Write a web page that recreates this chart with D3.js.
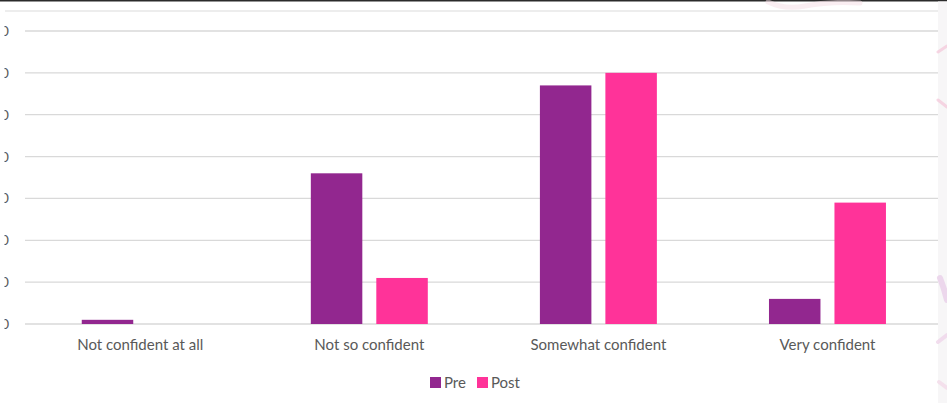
<!DOCTYPE html>
<html>
<head>
<meta charset="utf-8">
<script src="https://cdn.jsdelivr.net/npm/d3@7"></script>
<style>
  html, body { margin: 0; padding: 0; background: #fff; }
  svg { display: block; }
  text { font-family: Lato, "Open Sans", sans-serif; }
</style>
</head>
<body>
<svg id="chart" width="947" height="403"></svg>
<script>
// Confidence survey, percentage of respondents before and after
const categories = ["Not confident at all", "Not so confident", "Somewhat confident", "Very confident"];
const seriesNames = ["Pre", "Post"];
const preValues = [1, 36, 57, 6];
const postValues = [0, 11, 60, 29];
const yTicks = [0, 10, 20, 30, 40, 50, 60, 70];
const colors = ["#92278f", "#ff3399"];

const W = 947, H = 403;
const svg = d3.select("#chart");

const rows = categories.map((c, i) => ({ category: c, values: [preValues[i], postValues[i]] }));

const x0 = d3.scaleBand().domain(categories).range([25.7, 942]).paddingInner(0).paddingOuter(0);
const x1 = d3.scaleBand().domain(seriesNames).range([0, x0.bandwidth()])
  .paddingInner(0.2137).paddingOuter(0.856);
const y = d3.scaleLinear().domain([0, 70]).range([324, 31]);
const color = d3.scaleOrdinal().domain(seriesNames).range(colors);

// thin frame line along the top of the page
svg.append("line").attr("x1", 0).attr("x2", W).attr("y1", 0.75).attr("y2", 0.75)
  .attr("stroke", "#2b2b2b").attr("stroke-width", 1.5);
svg.append("line").attr("x1", 5).attr("x2", 938).attr("y1", 11).attr("y2", 11)
  .attr("stroke", "#dcdcdc").attr("stroke-width", 1.2);

// horizontal gridlines
svg.append("g").selectAll("line").data(yTicks).join("line")
  .attr("x1", 25).attr("x2", 942)
  .attr("y1", d => y(d)).attr("y2", d => y(d))
  .attr("stroke", "#d9d9d9").attr("stroke-width", 1.3);

// value axis labels, partly cut at the left edge
const yAxis = d3.axisLeft(y).tickValues(yTicks).tickSize(0).tickPadding(0);
const gy = svg.append("g").attr("transform", "translate(9,0)");
gy.append("clipPath").attr("id", "axisClip")
  .append("rect").attr("x", -4.5).attr("y", 0).attr("width", 40).attr("height", H);
gy.attr("clip-path", "url(#axisClip)");
gy.call(yAxis);
gy.select(".domain").remove();
gy.selectAll("text").attr("font-size", 14).attr("fill", "#595959")
  .style("font-family", "Lato, 'Open Sans', sans-serif");

// bars
const groups = svg.append("g").selectAll("g").data(rows).join("g")
  .attr("transform", d => `translate(${x0(d.category)},0)`);
groups.selectAll("rect")
  .data(d => d.values.map((v, i) => ({ key: seriesNames[i], value: v })))
  .join("rect")
  .attr("x", d => x1(d.key))
  .attr("width", x1.bandwidth())
  .attr("y", d => y(d.value))
  .attr("height", d => y(0) - y(d.value))
  .attr("fill", d => color(d.key));

// category axis
const xAxis = d3.axisBottom(x0).tickSize(0).tickPadding(0);
const gx = svg.append("g").attr("transform", "translate(0,339)");
gx.call(xAxis);
gx.select(".domain").remove();
gx.selectAll("text").attr("font-size", 15).attr("fill", "#595959")
  .attr("dy", "0.71em")
  .style("font-family", "Lato, 'Open Sans', sans-serif");

// legend
const legend = svg.append("g").attr("transform", "translate(430,377)");
const legendX = [0, 47];
seriesNames.forEach((name, i) => {
  const g = legend.append("g").attr("transform", `translate(${legendX[i]},0)`);
  g.append("rect").attr("width", 11).attr("height", 11).attr("fill", color(name));
  g.append("text").attr("x", 14).attr("y", 5.5).attr("dy", "0.35em")
    .attr("font-size", 15).attr("fill", "#595959").text(name);
});

// decorative side panel with faint ribbons
svg.append("rect").attr("x", 938).attr("y", 1.5).attr("width", 9).attr("height", H)
  .attr("fill", "#f7f6f7");
const ribbons = svg.append("g").attr("fill", "none").attr("stroke-linecap", "round");
ribbons.append("path").attr("d", "M768,2 Q785,10 805,6 Q830,1 860,3")
  .attr("stroke", "#f6dde6").attr("stroke-width", 5).attr("opacity", 0.5);
ribbons.append("path").attr("d", "M938,52 L947,46")
  .attr("stroke", "#f3c6d8").attr("stroke-width", 3).attr("opacity", 0.7);
ribbons.append("path").attr("d", "M938,100 L947,107")
  .attr("stroke", "#f3c6d8").attr("stroke-width", 3).attr("opacity", 0.7);
ribbons.append("path").attr("d", "M940,278 Q944,288 947,300")
  .attr("stroke", "#e9d0e8").attr("stroke-width", 6).attr("opacity", 0.8);
ribbons.append("path").attr("d", "M938,342 L947,335")
  .attr("stroke", "#efd6ea").attr("stroke-width", 4).attr("opacity", 0.8);
ribbons.append("path").attr("d", "M939,382 L947,388")
  .attr("stroke", "#f2dbe8").attr("stroke-width", 4).attr("opacity", 0.8);
</script>
</body>
</html>
